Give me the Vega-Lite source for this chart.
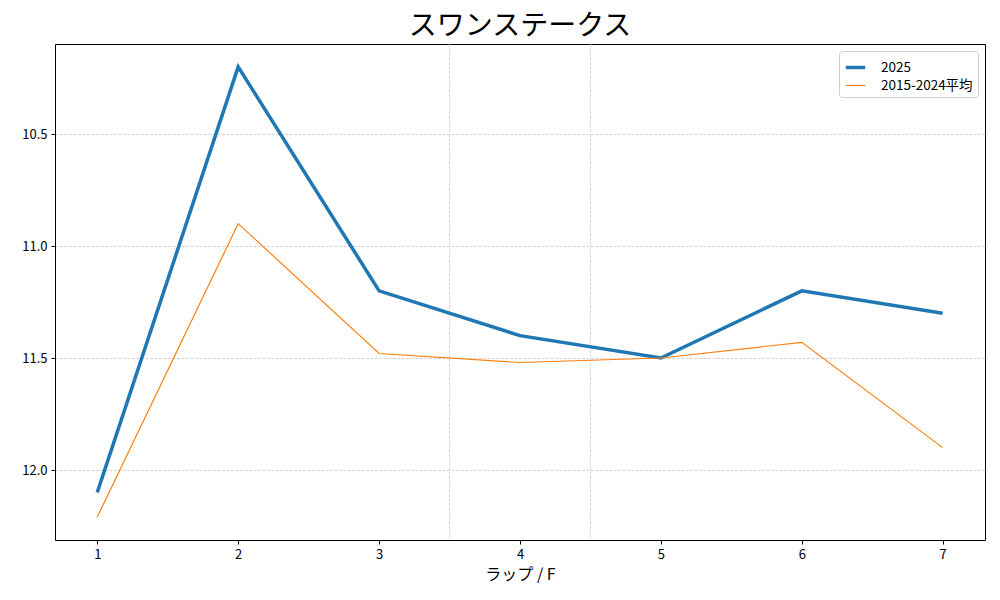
{
  "$schema": "https://vega.github.io/schema/vega-lite/v6.json",
  "width": 930,
  "height": 496,
  "autosize": {"type": "none"},
  "padding": {"left": 55, "top": 44, "right": 15, "bottom": 60},
  "background": "white",
  "config": {
    "font": "Noto Sans CJK JP",
    "view": {"stroke": "black", "strokeWidth": 1}
  },
  "title": {
    "text": "スワンステークス",
    "fontSize": 28,
    "fontWeight": "normal",
    "color": "black",
    "anchor": "middle",
    "offset": 3
  },
  "datasets": {
    "laps": [
      {"lap": 1, "series": "2025", "time": 12.1},
      {"lap": 2, "series": "2025", "time": 10.2},
      {"lap": 3, "series": "2025", "time": 11.2},
      {"lap": 4, "series": "2025", "time": 11.4},
      {"lap": 5, "series": "2025", "time": 11.5},
      {"lap": 6, "series": "2025", "time": 11.2},
      {"lap": 7, "series": "2025", "time": 11.3},
      {"lap": 1, "series": "2015-2024平均", "time": 12.21},
      {"lap": 2, "series": "2015-2024平均", "time": 10.9},
      {"lap": 3, "series": "2015-2024平均", "time": 11.48},
      {"lap": 4, "series": "2015-2024平均", "time": 11.52},
      {"lap": 5, "series": "2015-2024平均", "time": 11.5},
      {"lap": 6, "series": "2015-2024平均", "time": 11.43},
      {"lap": 7, "series": "2015-2024平均", "time": 11.9}
    ],
    "marks": [
      {"pos": 3.5},
      {"pos": 4.5}
    ]
  },
  "layer": [
    {
      "data": {"name": "marks"},
      "mark": {"type": "rule", "color": "#c8c8c8", "strokeWidth": 0.8, "strokeDash": [3, 1.5]},
      "encoding": {
        "x": {"field": "pos", "type": "quantitative", "scale": {"domain": [0.7, 7.3], "nice": false, "zero": false}}
      }
    },
    {
      "data": {"name": "laps"},
      "mark": {"type": "line"},
      "encoding": {
        "x": {
          "field": "lap",
          "type": "quantitative",
          "title": "ラップ / F",
          "scale": {"domain": [0.7, 7.3], "nice": false, "zero": false},
          "axis": {
            "values": [1, 2, 3, 4, 5, 6, 7],
            "format": "d",
            "grid": false,
            "domain": false,
            "tickColor": "black",
            "tickSize": 4,
            "labelFontSize": 13,
            "labelColor": "black",
            "labelPadding": 4,
            "titleFontSize": 16,
            "titleFontWeight": "normal",
            "titleColor": "black",
            "titlePadding": 5
          }
        },
        "y": {
          "field": "time",
          "type": "quantitative",
          "title": null,
          "scale": {"domain": [10.098, 12.3125], "reverse": true, "nice": false, "zero": false},
          "axis": {
            "values": [10.5, 11.0, 11.5, 12.0],
            "format": ".1f",
            "grid": true,
            "gridColor": "#c8c8c8",
            "gridDash": [3, 1.5],
            "gridWidth": 0.8,
            "domain": false,
            "tickColor": "black",
            "tickSize": 4,
            "labelFontSize": 13,
            "labelColor": "black",
            "labelPadding": 4
          }
        },
        "color": {
          "field": "series",
          "type": "nominal",
          "title": null,
          "scale": {"domain": ["2025", "2015-2024平均"], "range": ["#1f77b4", "#ff7f0e"]},
          "legend": {
            "orient": "top-right",
            "offset": 7,
            "symbolType": "stroke",
            "symbolSize": 380,
            "labelFontSize": 13.5,
            "labelColor": "black",
            "labelOffset": 14,
            "fillColor": "white",
            "strokeColor": "#d0d0d0",
            "cornerRadius": 3,
            "padding": 5,
            "rowPadding": 0
          }
        },
        "strokeWidth": {
          "field": "series",
          "type": "nominal",
          "title": null,
          "scale": {"domain": ["2025", "2015-2024平均"], "range": [3.5, 1.2]}
        }
      }
    }
  ]
}
